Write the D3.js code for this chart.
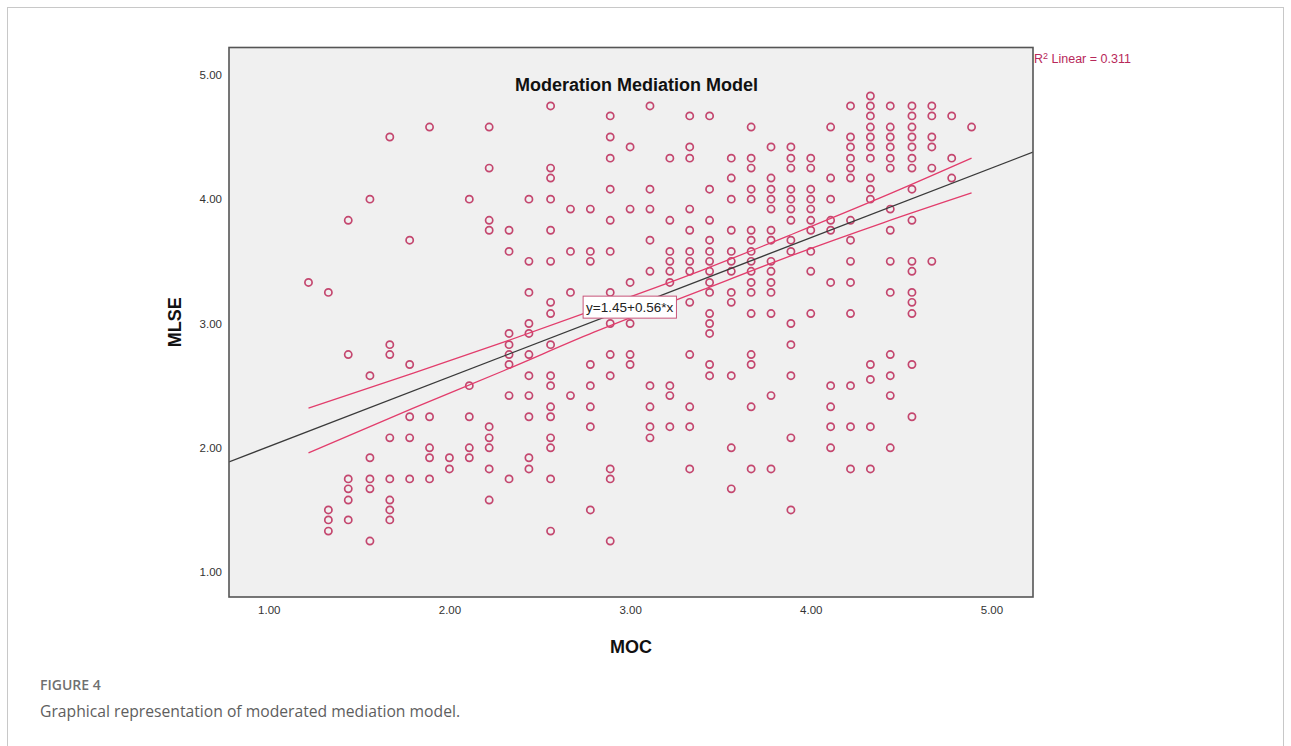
<!DOCTYPE html>
<html>
<head>
<meta charset="utf-8">
<script src="https://cdn.jsdelivr.net/npm/d3@7"></script>
<style>
  html, body { margin: 0; padding: 0; background: #ffffff; }
  svg { display: block; }
</style>
</head>
<body>
<svg id="chart" width="1291" height="746"></svg>
<script>
// ---------------- DATA ----------------
const chartTitle = "Moderation Mediation Model";
const xTitle = "MOC";
const yTitle = "MLSE";
const xTicks = [1, 2, 3, 4, 5];
const yTicks = [1, 2, 3, 4, 5];
const xDomain = [0.78, 5.23];
const yDomain = [0.8, 5.22];

// MOC levels (x) and the MLSE values (y) observed at each level
const mocLevels = [1.22, 1.33, 1.44, 1.56, 1.67, 1.78, 1.89, 2.00, 2.11, 2.22, 2.33, 2.44,
  2.56, 2.67, 2.78, 2.89, 3.00, 3.11, 3.22, 3.33, 3.44, 3.56, 3.67, 3.78, 3.89, 4.00,
  4.11, 4.22, 4.33, 4.44, 4.56, 4.67, 4.78, 4.89];
const mlseByLevel = [
  [3.33],
  [3.25, 1.50, 1.42, 1.33],
  [3.83, 2.75, 1.75, 1.67, 1.58, 1.42],
  [4.00, 2.58, 1.92, 1.75, 1.67, 1.25],
  [4.50, 2.83, 2.75, 2.08, 1.75, 1.58, 1.50, 1.42],
  [3.67, 2.67, 2.25, 2.08, 1.75],
  [4.58, 2.25, 2.00, 1.92, 1.75],
  [1.92, 1.83],
  [4.00, 2.50, 2.25, 2.00, 1.92],
  [4.58, 4.25, 3.83, 3.75, 2.17, 2.08, 2.00, 1.83, 1.58],
  [3.75, 3.58, 2.92, 2.83, 2.75, 2.67, 2.42, 1.75],
  [4.00, 3.50, 3.25, 3.00, 2.92, 2.75, 2.58, 2.42, 2.25, 1.92, 1.83],
  [4.75, 4.25, 4.17, 4.00, 3.75, 3.50, 3.17, 3.08, 2.83, 2.58, 2.50, 2.33, 2.25, 2.08, 2.00, 1.75, 1.33],
  [3.92, 3.58, 3.25, 2.42],
  [3.92, 3.58, 3.50, 2.67, 2.50, 2.33, 2.17, 1.50],
  [4.67, 4.50, 4.33, 4.08, 3.83, 3.58, 3.25, 3.00, 2.75, 2.58, 1.83, 1.75, 1.25],
  [4.42, 3.92, 3.33, 3.00, 2.75, 2.67],
  [4.75, 4.08, 3.92, 3.67, 3.42, 2.50, 2.33, 2.17, 2.08],
  [4.33, 3.83, 3.58, 3.50, 3.42, 3.33, 2.50, 2.42, 2.17],
  [4.67, 4.42, 4.33, 3.92, 3.75, 3.58, 3.50, 3.42, 3.17, 2.75, 2.33, 2.17, 1.83],
  [4.67, 4.08, 3.83, 3.67, 3.58, 3.50, 3.42, 3.33, 3.25, 3.08, 3.00, 2.92, 2.67, 2.58],
  [4.33, 4.17, 4.00, 3.75, 3.58, 3.50, 3.42, 3.25, 3.17, 2.58, 2.00, 1.67],
  [4.58, 4.33, 4.25, 4.08, 4.00, 3.75, 3.67, 3.58, 3.50, 3.42, 3.33, 3.25, 3.08, 2.75, 2.67, 2.33, 1.83],
  [4.42, 4.17, 4.08, 4.00, 3.92, 3.75, 3.67, 3.50, 3.42, 3.33, 3.25, 3.08, 2.42, 1.83],
  [4.42, 4.33, 4.25, 4.08, 4.00, 3.92, 3.83, 3.67, 3.58, 3.00, 2.83, 2.58, 2.08, 1.50],
  [4.33, 4.25, 4.08, 4.00, 3.92, 3.83, 3.75, 3.58, 3.42, 3.08],
  [4.58, 4.17, 4.00, 3.83, 3.75, 3.33, 2.50, 2.33, 2.17, 2.00],
  [4.75, 4.50, 4.42, 4.33, 4.25, 4.17, 3.83, 3.67, 3.50, 3.33, 3.08, 2.50, 2.17, 1.83],
  [4.83, 4.75, 4.67, 4.58, 4.50, 4.42, 4.33, 4.17, 4.08, 4.00, 2.67, 2.55, 2.17, 1.83],
  [4.75, 4.58, 4.50, 4.42, 4.33, 4.25, 3.92, 3.75, 3.50, 3.25, 2.75, 2.58, 2.42, 2.00],
  [4.75, 4.67, 4.58, 4.50, 4.42, 4.33, 4.25, 4.08, 3.83, 3.50, 3.42, 3.25, 3.17, 3.08, 2.67, 2.25],
  [4.75, 4.67, 4.50, 4.42, 4.25, 3.50],
  [4.67, 4.33, 4.17],
  [4.58]
];

// Fit line (from the chart label) and its 95% mean-confidence band
const fitIntercept = 1.45;
const fitSlope = 0.56;
const r2Value = "0.311";
const bandX     = [1.22, 1.80, 2.30, 2.80, 3.40, 3.90, 4.40, 4.89];
const bandUpper = [2.32, 2.60, 2.85, 3.11, 3.43, 3.72, 4.02, 4.33];
const bandLower = [1.96, 2.32, 2.62, 2.93, 3.27, 3.55, 3.81, 4.05];

const figureLabel = "FIGURE 4";
const figureCaption = "Graphical representation of moderated mediation model.";

// ---------------- DRAWING ----------------
const svg = d3.select("#chart");
const FONT = "'Liberation Sans', Arial, Helvetica, sans-serif";

// outer figure border
svg.append("rect")
  .attr("x", 7.5).attr("y", 7.5).attr("width", 1276).attr("height", 800)
  .attr("fill", "none").attr("stroke", "#c8c8c8").attr("stroke-width", 1);

const plot = { left: 229, right: 1033, top: 47.5, bottom: 597 };
const x = d3.scaleLinear().domain(xDomain).range([plot.left, plot.right]);
const y = d3.scaleLinear().domain(yDomain).range([plot.bottom, plot.top]);

// plot background
svg.append("rect")
  .attr("x", plot.left).attr("y", plot.top)
  .attr("width", plot.right - plot.left).attr("height", plot.bottom - plot.top)
  .attr("fill", "#f0f0f0");

svg.append("clipPath").attr("id", "plotclip")
  .append("rect")
  .attr("x", plot.left).attr("y", plot.top)
  .attr("width", plot.right - plot.left).attr("height", plot.bottom - plot.top);

const g = svg.append("g").attr("clip-path", "url(#plotclip)");

// points
const points = [];
mocLevels.forEach((mx, i) => mlseByLevel[i].forEach(my => points.push({ x: mx, y: my })));

g.selectAll("circle.pt").data(points).enter().append("circle")
  .attr("class", "pt")
  .attr("cx", d => x(d.x)).attr("cy", d => y(d.y))
  .attr("r", 3.6)
  .attr("fill", "none")
  .attr("stroke", "#bf3460")
  .attr("stroke-opacity", 0.9)
  .attr("stroke-width", 1.7);

// confidence band lines
const bandLine = d3.line().x(d => x(d[0])).y(d => y(d[1])).curve(d3.curveMonotoneX);
g.append("path").datum(bandX.map((v, i) => [v, bandUpper[i]]))
  .attr("d", bandLine).attr("fill", "none").attr("stroke", "#e23d6c").attr("stroke-width", 1.3);
g.append("path").datum(bandX.map((v, i) => [v, bandLower[i]]))
  .attr("d", bandLine).attr("fill", "none").attr("stroke", "#e23d6c").attr("stroke-width", 1.3);

// fit line across full x domain
g.append("line")
  .attr("x1", x(xDomain[0])).attr("y1", y(fitIntercept + fitSlope * xDomain[0]))
  .attr("x2", x(xDomain[1])).attr("y2", y(fitIntercept + fitSlope * xDomain[1]))
  .attr("stroke", "#3a3a3a").attr("stroke-width", 1.3);

// plot frame
svg.append("rect")
  .attr("x", plot.left).attr("y", plot.top)
  .attr("width", plot.right - plot.left).attr("height", plot.bottom - plot.top)
  .attr("fill", "none").attr("stroke", "#555").attr("stroke-width", 1.6);

// axes
const fmt = d3.format(".2f");
const xAxis = svg.append("g").attr("transform", `translate(0,${plot.bottom})`)
  .call(d3.axisBottom(x).tickValues(xTicks).tickFormat(fmt).tickSize(0).tickPadding(9));
const yAxis = svg.append("g").attr("transform", `translate(${plot.left},0)`)
  .call(d3.axisLeft(y).tickValues(yTicks).tickFormat(fmt).tickSize(0).tickPadding(7));
[xAxis, yAxis].forEach(a => {
  a.select(".domain").remove();
  a.selectAll("text").attr("font-family", FONT).attr("font-size", 11.5).attr("fill", "#333");
});

// titles
svg.append("text")
  .attr("x", 515).attr("y", 91)
  .attr("font-family", FONT).attr("font-size", 18).attr("font-weight", "bold").attr("fill", "#111")
  .text(chartTitle);

svg.append("text")
  .attr("x", (plot.left + plot.right) / 2).attr("y", 653)
  .attr("text-anchor", "middle")
  .attr("font-family", FONT).attr("font-size", 18).attr("font-weight", "bold").attr("fill", "#111")
  .text(xTitle);

svg.append("text")
  .attr("transform", `translate(181,${(plot.top + plot.bottom) / 2}) rotate(-90)`)
  .attr("text-anchor", "middle")
  .attr("font-family", FONT).attr("font-size", 18).attr("font-weight", "bold").attr("fill", "#111")
  .text(yTitle);

// equation label box
const eqX = x(2.74), eqY = y(3.22);
const eqG = svg.append("g");
const eqText = eqG.append("text")
  .attr("x", eqX + 3).attr("y", eqY + 16)
  .attr("font-family", FONT).attr("font-size", 13.5).attr("fill", "#222")
  .text(`y=${fitIntercept.toFixed(2)}+${fitSlope.toFixed(2)}*x`);
const bb = eqText.node().getBBox();
eqG.insert("rect", "text")
  .attr("x", eqX).attr("y", eqY)
  .attr("width", bb.width + 6).attr("height", 22)
  .attr("fill", "#ffffff").attr("stroke", "#c8557a").attr("stroke-width", 1);

// R² label
const r2 = svg.append("text")
  .attr("x", plot.right + 1).attr("y", 63)
  .attr("font-family", FONT).attr("font-size", 12.5).attr("fill", "#b8285a");
r2.append("tspan").text("R");
r2.append("tspan").attr("dy", -4.5).attr("font-size", 9).text("2");
r2.append("tspan").attr("dy", 4.5).text(` Linear = ${r2Value}`);

// caption
svg.append("text")
  .attr("x", 40).attr("y", 690)
  .attr("font-family", "'Open Sans', sans-serif").attr("font-size", 14).attr("font-weight", 600)
  .attr("fill", "#707070")
  .text(figureLabel);
svg.append("text")
  .attr("x", 40).attr("y", 717)
  .attr("font-family", "'Open Sans', sans-serif").attr("font-size", 15.7)
  .attr("fill", "#5e5e5e")
  .text(figureCaption);
</script>
</body>
</html>
